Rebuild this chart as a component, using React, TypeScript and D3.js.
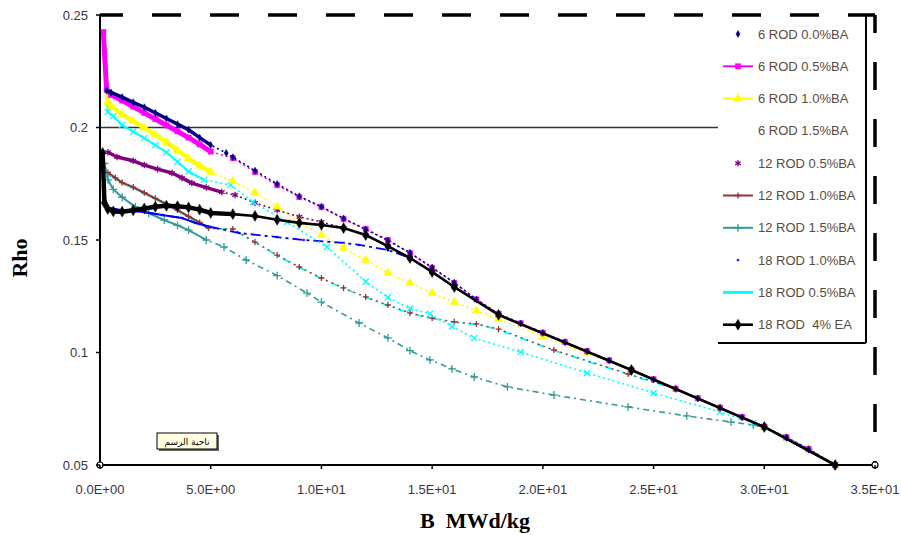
import React from "react";
import * as d3 from "d3";

// ---- data (burnup MWd/kg, Rho) ----
const rod6_00: [number, number][] = [[0.3,0.2165],[0.5,0.2156],[1,0.2135],[1.5,0.2112],[2,0.209],[2.5,0.2065],[3,0.204],[3.5,0.2015],[4,0.199],[4.5,0.1955],[5,0.1922],[5.7,0.1887],[6,0.1868],[7,0.1808],[8,0.1749],[9,0.1694],[10,0.1648],[11,0.1596],[12,0.1547],[13,0.1498],[14,0.1443],[15,0.1378],[16,0.131],[17,0.1236],[18,0.1171],[19,0.1129],[20,0.1087],[21,0.1046],[22,0.1005],[23,0.0964],[24,0.0922],[25,0.088],[26,0.0838],[27,0.0796],[28,0.0754],[29,0.0712],[30,0.0669],[31,0.0622],[32,0.057],[33.2,0.05]];
const rod6_05: [number, number][] = [[0.15,0.2424],[0.3,0.2167],[0.5,0.2145],[1,0.212],[1.5,0.2093],[2,0.2065],[2.5,0.2038],[3,0.201],[3.5,0.1983],[4,0.1955],[4.5,0.1925],[5,0.1893],[6,0.1864],[7,0.1802],[8,0.1744],[9,0.1691],[10,0.1647],[11,0.1593],[12,0.1549],[13,0.15],[14,0.1442],[15,0.1376],[16,0.1309],[17,0.1236],[18,0.1172],[19,0.113],[20,0.1088],[21,0.1047],[22,0.1006],[23,0.0965],[24,0.0923],[25,0.0881],[26,0.0839],[27,0.0797],[28,0.0755],[29,0.0713],[30,0.067],[31,0.0623],[32,0.0571],[33.2,0.05]];
const rod6_10: [number, number][] = [[0.2,0.2358],[0.35,0.2113],[0.5,0.2095],[1,0.2058],[1.5,0.2028],[2,0.1998],[2.5,0.1967],[3,0.1935],[3.5,0.1899],[4,0.1862],[4.5,0.183],[5,0.1802],[6,0.1762],[7,0.1711],[8,0.1647],[9,0.158],[10,0.1522],[11,0.1464],[12,0.1411],[13,0.1353],[14,0.1309],[15,0.1264],[16,0.1224],[17,0.1185],[18,0.1148],[20,0.107],[22,0.0997],[24,0.0922],[26,0.0839],[28,0.0755],[30,0.067],[31,0.0623],[32,0.0571],[33.2,0.05]];
const rod6_15: [number, number][] = [[0.2,0.2336],[0.35,0.2069],[0.6,0.205],[1,0.2011],[1.5,0.1982],[2,0.1953],[2.5,0.1922],[3,0.189],[3.5,0.1848],[4,0.1805],[4.7,0.1767],[5.9,0.1744],[6.9,0.1669],[8.45,0.158],[10.25,0.1469],[12,0.1315],[13,0.1245],[14,0.1195],[14.9,0.1172],[15.9,0.1116],[16.9,0.1064],[19,0.1002],[22,0.0909],[25,0.082],[28,0.0736],[29.5,0.0687],[30,0.0669],[31,0.0622],[32,0.057],[33.2,0.05]];
const rod12_05: [number, number][] = [[0.36,0.189],[0.77,0.1869],[1.5,0.1852],[2,0.1833],[2.6,0.1815],[3.25,0.1798],[3.7,0.1776],[4.15,0.1753],[4.8,0.1733],[5.5,0.1713],[6.1,0.17],[7,0.1665],[8,0.1633],[9,0.1603],[10,0.158],[11,0.1553],[12,0.1522],[13,0.1473],[14,0.142],[15,0.1358],[16,0.1291],[18,0.1167],[24,0.0922],[30,0.0669],[33.2,0.05]];
const rod12_10: [number, number][] = [[0.36,0.18],[0.7,0.1776],[1,0.1755],[1.5,0.1735],[2,0.171],[2.5,0.1685],[3,0.166],[3.5,0.1633],[4,0.1605],[4.5,0.1578],[4.9,0.1553],[6,0.1549],[7,0.1491],[8,0.1433],[9,0.138],[10,0.1331],[11,0.1287],[12,0.1247],[13,0.1211],[14,0.1176],[15,0.1153],[16,0.1136],[17,0.1127],[18,0.1104],[20.5,0.1011],[23.85,0.0905],[26,0.0839],[28,0.0755],[30,0.067],[31,0.0623],[32,0.0571],[33.2,0.05]];
const rod12_15: [number, number][] = [[0.2,0.184],[0.36,0.1767],[0.6,0.1725],[1,0.169],[1.6,0.1647],[2.2,0.1618],[2.9,0.1589],[3.5,0.1565],[4,0.1544],[4.8,0.15],[5.6,0.1469],[6.6,0.1411],[8,0.1342],[9.35,0.1264],[10,0.1224],[11.7,0.1131],[13,0.1065],[14,0.1008],[14.9,0.0967],[15.9,0.0927],[16.9,0.0891],[18.4,0.0847],[20.5,0.0811],[23.85,0.0758],[26.5,0.0718],[28.5,0.0691],[29.5,0.0678],[30,0.0667],[31,0.0622],[32,0.057],[33.2,0.05]];
const rod18_10: [number, number][] = [[0.3,0.1645],[1,0.1632],[2,0.1624],[2.8,0.1611],[3.7,0.1598],[4.3,0.1576],[5,0.1558],[6.3,0.1531],[8,0.1513],[9.2,0.15],[11,0.1487],[11.7,0.1478],[13,0.1456],[14,0.142],[15,0.1358],[16,0.1291],[18,0.1167],[24,0.0922],[30,0.0669],[33.2,0.05]];
const rod18_05: [number, number][] = [[0.3,0.1795],[0.7,0.1774],[1,0.1754],[1.5,0.1733],[2,0.1708],[2.5,0.1683],[3,0.1658],[3.5,0.1631],[4,0.1603],[4.5,0.1576],[4.9,0.1551],[6,0.1547],[7,0.1489],[8,0.1431],[9,0.1378],[10,0.1329],[11,0.1285],[12,0.1245],[13,0.1209],[14,0.1174],[15,0.1151],[16,0.1134],[17,0.1125],[18,0.1102],[20.5,0.1009],[23.85,0.0903],[26,0.0838],[28,0.0754],[30,0.0669],[31,0.0622],[32,0.057],[33.2,0.05]];
const rod18_ea: [number, number][] = [[0.12,0.1887],[0.2,0.1665],[0.35,0.1638],[0.6,0.1627],[1,0.1626],[1.5,0.1632],[2,0.164],[2.5,0.1648],[3,0.1652],[3.5,0.165],[4,0.1645],[4.5,0.1635],[5,0.162],[6,0.1615],[7,0.1607],[8,0.159],[9,0.1576],[10,0.1567],[11,0.1553],[12,0.1522],[13,0.1473],[14,0.142],[15,0.1358],[16,0.1291],[18,0.1167],[24,0.0922],[30,0.0669],[33.2,0.05]];

const seriesNames = ["6 ROD 0.0%BA","6 ROD 0.5%BA","6 ROD 1.0%BA","6 ROD 1.5%BA","12 ROD 0.5%BA","12 ROD 1.0%BA","12 ROD 1.5%BA","18 ROD 1.0%BA","18 ROD 0.5%BA","18 ROD  4% EA"];
const xTicks = [0,5,10,15,20,25,30,35];
const xTickLabels = ["0.0E+00","5.0E+00","1.0E+01","1.5E+01","2.0E+01","2.5E+01","3.0E+01","3.5E+01"];
const yTicks = [0.05,0.1,0.15,0.2,0.25];
const yTickLabels = ["0.05","0.1","0.15","0.2","0.25"];

type S = {
  name: string; data: [number, number][]; color: string; sym: any; size: number;
  dash: string; width: number; denseEnd: number; denseWidth: number;
  legLine: boolean; legMarker: boolean; stroked?: boolean;
};

const series: S[] = [
  { name: seriesNames[0], data: rod6_00, color: "#000080", sym: d3.symbolDiamond, size: 14, dash: "2,3", width: 1.6, denseEnd: 5, denseWidth: 3.5, legLine: false, legMarker: true },
  { name: seriesNames[1], data: rod6_05, color: "#FF00FF", sym: d3.symbolSquare, size: 28, dash: "2,3", width: 1.6, denseEnd: 5, denseWidth: 5, legLine: true, legMarker: true },
  { name: seriesNames[2], data: rod6_10, color: "#FFFF00", sym: d3.symbolTriangle, size: 30, dash: "2,3", width: 1.6, denseEnd: 5, denseWidth: 4.5, legLine: true, legMarker: true },
  { name: seriesNames[3], data: rod6_15, color: "#00FFFF", sym: d3.symbolTimes, size: 26, dash: "2,3", width: 1.6, denseEnd: 4.7, denseWidth: 2, legLine: false, legMarker: false, stroked: true },
  { name: seriesNames[4], data: rod12_05, color: "#800080", sym: d3.symbolAsterisk, size: 30, dash: "2,3", width: 1.6, denseEnd: 5.5, denseWidth: 3.5, legLine: false, legMarker: true, stroked: true },
  { name: seriesNames[5], data: rod12_10, color: "#993333", sym: d3.symbolPlus, size: 14, dash: "2,4", width: 1.2, denseEnd: 4.9, denseWidth: 2, legLine: true, legMarker: true, stroked: true },
  { name: seriesNames[6], data: rod12_15, color: "#339999", sym: d3.symbolPlus, size: 22, dash: "6,4,2,4", width: 1.6, denseEnd: 4.8, denseWidth: 2, legLine: true, legMarker: true, stroked: true },
  { name: seriesNames[7], data: rod18_10, color: "#0000FF", sym: d3.symbolSquare, size: 3, dash: "10,4,3,4", width: 1.8, denseEnd: 5, denseWidth: 2, legLine: false, legMarker: true },
  { name: seriesNames[8], data: rod18_05, color: "#00FFFF", sym: null, size: 0, dash: "8,4,2,4", width: 1.8, denseEnd: 4.9, denseWidth: 2.5, legLine: true, legMarker: false },
  { name: seriesNames[9], data: rod18_ea, color: "#000000", sym: d3.symbolDiamond, size: 34, dash: "", width: 2.6, denseEnd: 6, denseWidth: 4.5, legLine: true, legMarker: true },
];

const drawOrder = [6, 8, 5, 7, 4, 3, 2, 1, 0, 9];

const X0 = 100, X1 = 875, Y0 = 465, Y1 = 15;
const xScale = d3.scaleLinear().domain([0, 35]).range([X0, X1]);
const yScale = d3.scaleLinear().domain([0.05, 0.25]).range([Y0, Y1]);
const line = d3.line<[number, number]>().x(d => xScale(d[0])).y(d => yScale(d[1]));

const FONT = "'Liberation Sans', Arial, sans-serif";

function Marker({ s, x, y }: { s: S; x: number; y: number }) {
  if (!s.sym) return null;
  const p = d3.symbol().type(s.sym).size(s.size)() || "";
  return s.stroked ? (
    <path d={p} transform={`translate(${x},${y})`} fill="none" stroke={s.color} strokeWidth={1.3} />
  ) : (
    <path d={p} transform={`translate(${x},${y})`} fill={s.color} stroke={s.color} strokeWidth={0.5} />
  );
}

export default function App() {
  const legX = 718, legR = 866, legBottom = 343;
  return (
    <svg width={901} height={535} style={{ position: "absolute", left: 0, top: 0, background: "#fff" }}>
      <rect x={0} y={0} width={901} height={535} fill="#fff" />
      {/* gridline at 0.2 */}
      <line x1={X0} x2={legX} y1={yScale(0.2)} y2={yScale(0.2)} stroke="#333" strokeWidth={1.5} />

      {/* series */}
      {drawOrder.map(i => {
        const s = series[i];
        const dense = s.data.filter(d => d[0] <= s.denseEnd);
        return (
          <g key={i}>
            <path d={line(s.data) || ""} fill="none" stroke={s.color} strokeWidth={s.width}
              strokeDasharray={s.dash || undefined} />
            <path d={line(dense) || ""} fill="none" stroke={s.color} strokeWidth={s.denseWidth} strokeLinejoin="round" />
            {s.data.map((d, j) => (
              <Marker key={j} s={s} x={xScale(d[0])} y={yScale(d[1])} />
            ))}
          </g>
        );
      })}

      {/* axes */}
      <line x1={X0} x2={X0} y1={Y1} y2={Y0} stroke="#000" strokeWidth={2} />
      <line x1={X0} x2={X1} y1={Y0} y2={Y0} stroke="#000" strokeWidth={2} />
      <line x1={X0} x2={X1} y1={Y1} y2={Y1} stroke="#000" strokeWidth={3.5} strokeDasharray="29,29" strokeDashoffset={6} />
      <line x1={X1} x2={X1} y1={Y1} y2={Y0} stroke="#000" strokeWidth={3.5} strokeDasharray="28,29" strokeDashoffset={10} />
      <circle cx={X1} cy={Y0} r={3} fill="#fff" stroke="#000" strokeWidth={1.2} />
      <circle cx={X0} cy={Y0} r={3} fill="#fff" stroke="#000" strokeWidth={1.2} />

      {yTicks.map((t, i) => (
        <g key={i}>
          <line x1={X0 - 4} x2={X0} y1={yScale(t)} y2={yScale(t)} stroke="#000" strokeWidth={1.5} />
          <text x={88} y={yScale(t) + 4.5} textAnchor="end" fontFamily={FONT} fontSize={13} fill="#3a3340">{yTickLabels[i]}</text>
        </g>
      ))}
      {xTicks.map((t, i) => (
        <g key={i}>
          <line x1={xScale(t)} x2={xScale(t)} y1={Y0} y2={Y0 + 4} stroke="#000" strokeWidth={1.5} />
          <text x={xScale(t)} y={494} textAnchor="middle" fontFamily={FONT} fontSize={13} fill="#3a3340">{xTickLabels[i]}</text>
        </g>
      ))}

      {/* legend */}
      <rect x={legX} y={Y1 + 2} width={legR - legX} height={legBottom - Y1 - 2} fill="#fff" />
      <line x1={legR} x2={legR} y1={Y1} y2={legBottom} stroke="#000" strokeWidth={2} />
      <line x1={legX} x2={legR} y1={legBottom} y2={legBottom} stroke="#000" strokeWidth={2} />
      {series.map((s, i) => {
        const cy = 34 + i * 32.3;
        return (
          <g key={i}>
            {s.legLine && (
              <line x1={723} x2={753} y1={cy} y2={cy} stroke={s.color} strokeWidth={i === 9 ? 2.6 : i === 8 ? 3 : 2} />
            )}
            {s.legMarker && <Marker s={s} x={738} y={cy} />}
            <text x={758} y={cy + 4.5} fontFamily={FONT} fontSize={13} fill="#5a4a3a" style={{ whiteSpace: "pre" }}>{s.name}</text>
          </g>
        );
      })}

      {/* plot area tooltip */}
      <rect x={159} y={435} width={60} height={16} fill="#666" />
      <rect x={157} y={433} width={60} height={16} fill="#FFFFE1" stroke="#000" strokeWidth={1} />
      <text x={187} y={445} textAnchor="middle" fontFamily="'DejaVu Sans', sans-serif" fontSize={9} fill="#000" direction="rtl">ناحية الرسم</text>

      {/* axis titles */}
      <text transform="translate(27,258) rotate(-90)" textAnchor="middle" fontFamily="'Liberation Serif', 'Times New Roman', serif" fontWeight="bold" fontSize={22} fill="#000">Rho</text>
      <text x={420} y={528} fontFamily="'Liberation Serif', 'Times New Roman', serif" fontWeight="bold" fontSize={22} fill="#000" style={{ whiteSpace: "pre" }}>{"B  MWd/kg"}</text>
    </svg>
  );
}
